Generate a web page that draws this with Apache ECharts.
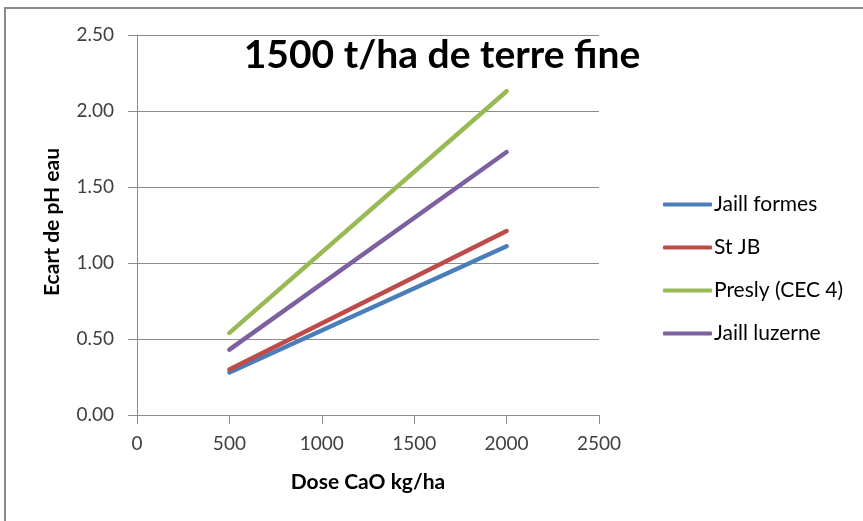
<!DOCTYPE html>
<html>
<head>
<meta charset="utf-8">
<script src="https://cdn.jsdelivr.net/npm/echarts@6/dist/echarts.min.js"></script>
<style>
  html, body { margin: 0; padding: 0; background: #fff; }
  #chart { width: 863px; height: 521px; }
</style>
</head>
<body>
<div id="chart"></div>
<script>
// Dose de CaO (kg/ha) et écart de pH eau mesuré pour chaque sol
const doses = [500, 2000];
const jaillFormes = [0.28, 1.11];
const stJB = [0.30, 1.21];
const presly = [0.54, 2.13];
const jaillLuzerne = [0.43, 1.73];

const seriesNames = ['Jaill formes', 'St JB', 'Presly (CEC 4)', 'Jaill luzerne'];
const seriesValues = [jaillFormes, stJB, presly, jaillLuzerne];
const seriesColors = ['#4A7EBB', '#BE4B48', '#98B954', '#7D60A0'];

const titleText = '1500 t/ha de terre fine';
const xTitle = 'Dose CaO kg/ha';
const yTitle = 'Ecart de pH eau';

const FONT = 'Lato, "Open Sans", sans-serif';
const AXIS_GREY = '#8c8c8c';

const chart = echarts.init(document.getElementById('chart'), null, { renderer: 'canvas' });

chart.setOption({
  animation: false,
  backgroundColor: '#ffffff',
  textStyle: { fontFamily: FONT },
  title: {
    text: titleText,
    left: 437,
    top: 31,
    textAlign: 'center',
    textStyle: { fontFamily: FONT, fontSize: 39, fontWeight: 'bold', color: '#000' }
  },
  grid: { left: 137, right: 264, top: 35, bottom: 106, containLabel: false },
  legend: {
    orient: 'vertical',
    left: 658,
    top: 189,
    itemWidth: 49,
    itemHeight: 4,
    itemGap: 22,
    icon: 'roundRect',
    data: seriesNames,
    textStyle: { fontFamily: FONT, fontSize: 21, lineHeight: 21, color: '#000', padding: [0, 0, 0, -3] }
  },
  xAxis: {
    type: 'value',
    min: 0,
    max: 2500,
    interval: 500,
    name: xTitle,
    nameLocation: 'middle',
    nameGap: 57,
    nameTextStyle: { fontFamily: FONT, fontSize: 21, fontWeight: 'bold', color: '#000' },
    axisLine: { show: true, lineStyle: { color: AXIS_GREY, width: 1 } },
    axisTick: { show: true, length: 9, lineStyle: { color: AXIS_GREY } },
    axisLabel: { margin: 19, fontSize: 19, color: '#404040', fontFamily: FONT, formatter: v => String(v) },
    splitLine: { show: false }
  },
  yAxis: {
    type: 'value',
    min: 0,
    max: 2.5,
    interval: 0.5,
    axisLine: { show: true, lineStyle: { color: AXIS_GREY, width: 1 } },
    axisTick: { show: true, length: 9, lineStyle: { color: AXIS_GREY } },
    axisLabel: {
      margin: 23, fontSize: 19, color: '#404040', fontFamily: FONT,
      formatter: v => v.toFixed(2)
    },
    splitLine: { show: true, lineStyle: { color: AXIS_GREY, width: 1 } }
  },
  graphic: [
    {
      type: 'polyline',
      shape: { points: [[5, 521], [5, 8], [863, 8]] },
      style: { stroke: '#8a8a8a', lineWidth: 2, fill: null }
    },
    {
      type: 'text',
      x: 52,
      y: 222,
      rotation: Math.PI / 2,
      style: {
        text: yTitle,
        font: 'bold 21px ' + FONT,
        fill: '#000',
        align: 'center',
        verticalAlign: 'middle'
      }
    }
  ],
  series: seriesNames.map((name, i) => ({
    name,
    type: 'line',
    data: doses.map((d, j) => [d, seriesValues[i][j]]),
    showSymbol: false,
    symbol: 'none',
    lineStyle: { color: seriesColors[i], width: 4.5, cap: 'round' },
    itemStyle: { color: seriesColors[i] }
  }))
});
</script>
</body>
</html>
